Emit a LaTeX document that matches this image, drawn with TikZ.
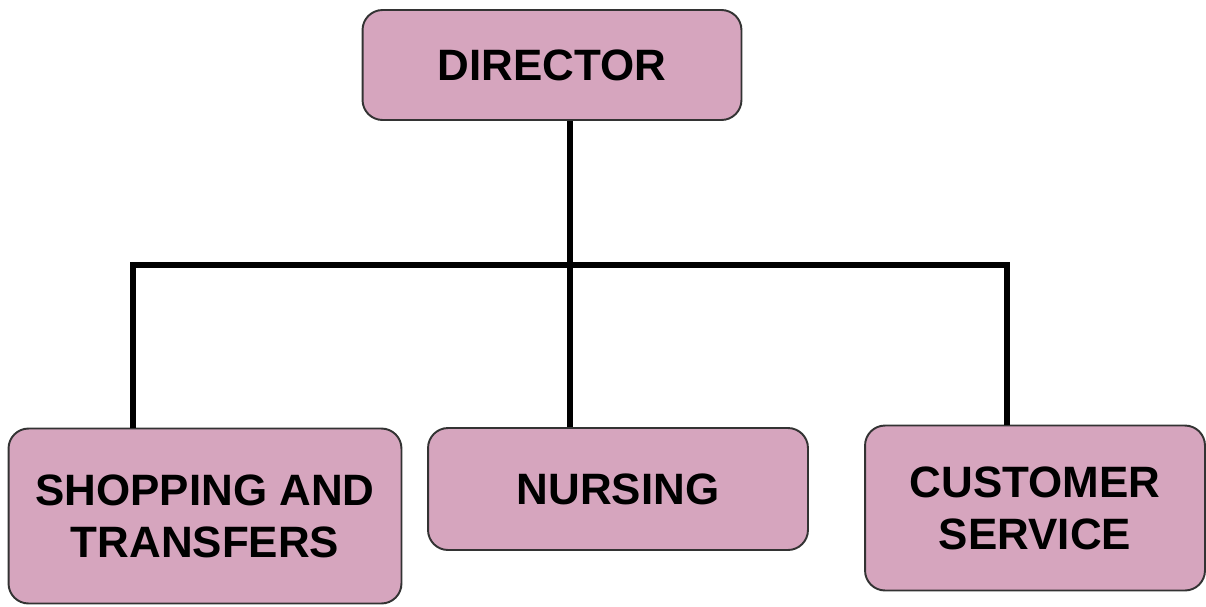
\documentclass[tikz,border=0pt]{standalone}
\usepackage{fontspec}
\setmainfont{Liberation Sans}
\definecolor{boxpink}{HTML}{D6A5BE}
\definecolor{boxline}{HTML}{333333}
\tikzset{
  unit/.style={draw=boxline, line width=1.1pt, fill=boxpink, rounded corners=0.4cm,
    align=center, inner sep=0pt, font=\bfseries\fontsize{25pt}{29.6pt}\selectfont},
  link/.style={line width=2.9pt}
}
\begin{document}
\begin{tikzpicture}[x=0.02cm,y=-0.02cm]
		\useasboundingbox (0,0) rectangle (1206,606);
		% Direzione
		\node [unit, minimum width=7.58cm, minimum height=2.2cm] (dir) at (552,65) {DIRECTOR};
		% Reparti
		\node [unit, minimum width=7.86cm, minimum height=3.5cm] (shop) at (205,516) {SHOPPING AND\\TRANSFERS};
		\node [unit, minimum width=7.6cm, minimum height=2.44cm] (nurse) at (618,489) {NURSING};
		\node [unit, minimum width=6.8cm, minimum height=3.3cm] (cust) at (1035,508) {CUSTOMER\\SERVICE};
		% Collegamenti
		\coordinate (hub) at (570,265);
		\coordinate (lbar) at (133,265);
		\coordinate (rbar) at (1007,265);
		\draw [link] (dir.south -| hub) -- (hub);
		\draw [link, line cap=rect] (lbar) -- (rbar);
		\draw [link] (lbar) -- (shop.north -| lbar);
		\draw [link] (hub) -- (nurse.north -| hub);
		\draw [link] (rbar) -- (cust.north -| rbar);
	\end{tikzpicture}
\end{document}
